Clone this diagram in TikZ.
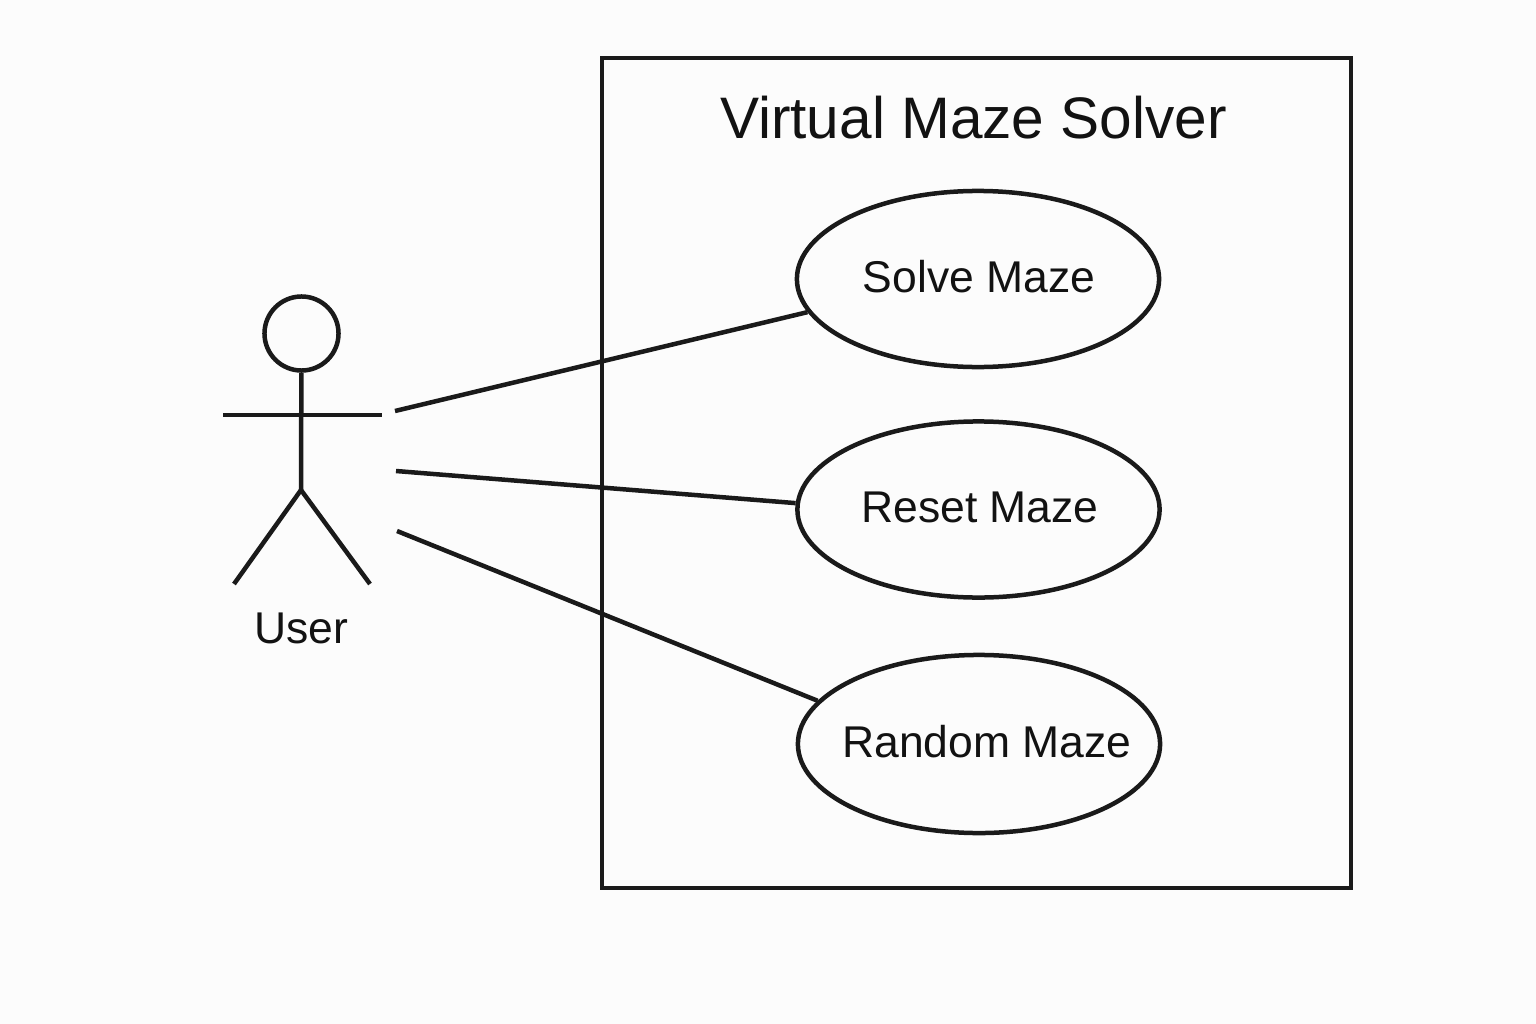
\documentclass[tikz,border=0pt]{standalone}
\usepackage{fontspec}
\setmainfont{Liberation Sans}
\usetikzlibrary{shapes.geometric}
\definecolor{umlInk}{RGB}{26,26,26}
\definecolor{umlText}{RGB}{18,18,18}
\definecolor{umlPaper}{RGB}{252,252,252}
\tikzset{
  usecase/.style={ellipse, draw=umlInk, line width=0.045cm, minimum width=3.62cm, minimum height=1.76cm, inner sep=0pt},
  caselabel/.style={text=umlText, font=\fontsize{12.65}{15}\selectfont},
  assoc/.style={draw=umlInk, line width=0.045cm}
}
\begin{document}
\begin{tikzpicture}[x=0.01cm, y=-0.01cm]
  \fill [umlPaper] (0,0) rectangle (1536,1024);
  % system boundary
  \draw [umlInk, line width=0.045cm] (602,58) rectangle (1351,888);
  \node (title) at (973.5,118) [text=umlText, font=\fontsize{16.65}{20}\selectfont] {Virtual Maze Solver};
  % use cases
  \node (solve) at (978,279) [usecase] {};
  \node (reset) at (978.5,509.5) [usecase] {};
  \node (random) at (979,744) [usecase, minimum height=1.78cm] {};
  \node (solvelabel) at (979,277) [caselabel] {Solve Maze};
  \node (resetlabel) at (980,507) [caselabel] {Reset Maze};
  \node (randomlabel) at (987,742) [caselabel] {Random Maze};
  % actor
  \node (head) at (301.5,333.5) [circle, draw=umlInk, line width=0.045cm, minimum size=0.74cm, inner sep=0pt] {};
  \coordinate (hip) at (301,490);
  \coordinate (handl) at (223,415);
  \coordinate (handr) at (382,415);
  \coordinate (footl) at (234,584);
  \coordinate (footr) at (370,584);
  \draw [assoc] (head) -- (hip);
  \draw [assoc] (handl) -- (handr);
  \draw [assoc] (footl) -- (hip) -- (footr);
  \node (user) at (301,628) [caselabel] {User};
  % associations
  \coordinate (a1) at (395,411);
  \coordinate (a2) at (396,471);
  \coordinate (a3) at (397,531);
  \draw [assoc] (a1) -- (solve.191.6);
  \draw [assoc] (a2) -- (reset.178);
  \draw [assoc] (a3) -- (random.165);
\end{tikzpicture}
\end{document}
